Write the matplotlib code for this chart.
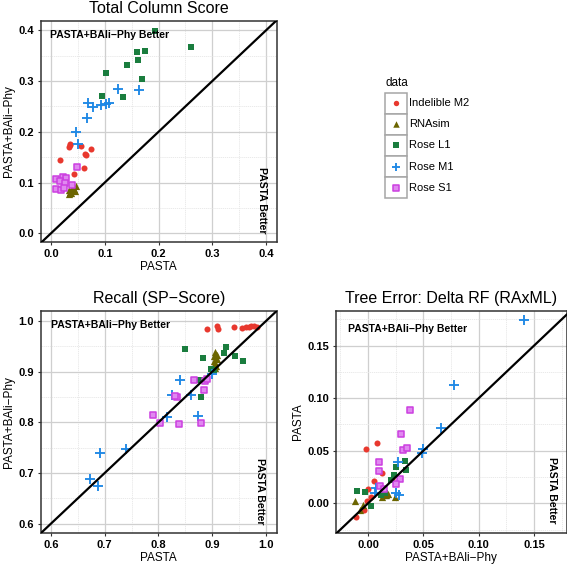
import matplotlib
matplotlib.use("Agg")
import matplotlib.pyplot as plt
from matplotlib.patches import Rectangle
from matplotlib.ticker import MultipleLocator, FormatStrFormatter

plt.rcParams['font.family'] = ['Liberation Sans', 'DejaVu Sans']

# ---------------- data ----------------
groups = ["Indelible M2", "RNAsim", "Rose L1", "Rose M1", "Rose S1"]

# Total Column Score (x = PASTA, y = PASTA+BAli-Phy)
tc_ind_x = [0.035, 0.033, 0.056, 0.074, 0.065, 0.017, 0.062, 0.043, 0.036, 0.064]
tc_ind_y = [0.176, 0.170, 0.172, 0.167, 0.155, 0.144, 0.128, 0.117, 0.174, 0.156]
tc_rna_x = [0.036, 0.042, 0.047, 0.034, 0.038, 0.040, 0.033, 0.044]
tc_rna_y = [0.082, 0.087, 0.094, 0.077, 0.080, 0.090, 0.085, 0.083]
tc_l1_x = [0.193, 0.260, 0.159, 0.174, 0.161, 0.142, 0.102, 0.170, 0.095, 0.133]
tc_l1_y = [0.399, 0.366, 0.357, 0.359, 0.341, 0.332, 0.315, 0.304, 0.270, 0.268]
tc_m1_x = [0.125, 0.164, 0.069, 0.079, 0.093, 0.103, 0.107, 0.067, 0.047, 0.050]
tc_m1_y = [0.285, 0.282, 0.256, 0.248, 0.252, 0.255, 0.257, 0.227, 0.199, 0.176]
tc_s1_x = [0.048, 0.010, 0.022, 0.028, 0.017, 0.040, 0.010, 0.019, 0.027, 0.025]
tc_s1_y = [0.131, 0.107, 0.111, 0.108, 0.103, 0.095, 0.087, 0.085, 0.100, 0.090]

# Recall (SP-Score)
rc_ind_x = [0.891, 0.908, 0.910, 0.940, 0.955, 0.963, 0.969, 0.973, 0.978, 0.983]
rc_ind_y = [0.984, 0.990, 0.984, 0.989, 0.986, 0.988, 0.989, 0.991, 0.990, 0.989]
rc_rna_x = [0.906, 0.904, 0.908, 0.905, 0.907, 0.903, 0.909, 0.905]
rc_rna_y = [0.938, 0.930, 0.925, 0.918, 0.912, 0.922, 0.933, 0.908]
rc_l1_x = [0.850, 0.882, 0.926, 0.921, 0.942, 0.957, 0.898, 0.878, 0.880, 0.904]
rc_l1_y = [0.945, 0.927, 0.949, 0.937, 0.930, 0.921, 0.906, 0.883, 0.850, 0.903]
rc_m1_x = [0.672, 0.688, 0.691, 0.740, 0.816, 0.826, 0.861, 0.840, 0.873, 0.900]
rc_m1_y = [0.688, 0.674, 0.739, 0.747, 0.811, 0.854, 0.854, 0.884, 0.812, 0.896]
rc_s1_x = [0.790, 0.803, 0.839, 0.834, 0.830, 0.867, 0.887, 0.884, 0.879, 0.890]
rc_s1_y = [0.815, 0.798, 0.797, 0.850, 0.852, 0.884, 0.882, 0.863, 0.799, 0.886]

# Tree Error: Delta RF (x = PASTA+BAli-Phy, y = PASTA)
te_ind_x = [-0.002, 0.008, 0.013, 0.005, 0.000, 0.003, -0.004, -0.011, 0.022, -0.001]
te_ind_y = [0.052, 0.057, 0.029, 0.021, 0.014, 0.006, -0.006, -0.013, 0.023, 0.002]
te_rna_x = [-0.012, -0.005, -0.007, 0.015, 0.018, 0.013, 0.024, 0.016]
te_rna_y = [0.002, -0.002, -0.006, 0.008, 0.009, 0.006, 0.006, 0.008]
te_l1_x = [-0.010, -0.003, 0.003, 0.023, 0.025, 0.033, 0.034, 0.015, 0.012, 0.021]
te_l1_y = [0.012, 0.011, -0.003, 0.027, 0.035, 0.040, 0.032, 0.010, 0.008, 0.022]
te_m1_x = [0.141, 0.078, 0.066, 0.050, 0.049, 0.027, 0.007, 0.025, 0.028, 0.006]
te_m1_y = [0.174, 0.113, 0.072, 0.052, 0.048, 0.039, 0.015, 0.010, 0.008, 0.010]
te_s1_x = [0.038, 0.030, 0.032, 0.035, 0.010, 0.010, 0.029, 0.025, 0.011, 0.014]
te_s1_y = [0.089, 0.066, 0.051, 0.053, 0.039, 0.031, 0.023, 0.018, 0.016, 0.014]

# ---------------- style ----------------
colors = ["#E8382E", "#6B6500", "#1A7D3E", "#1E88E5", "#CC3FE0"]
styles = [
    dict(marker='o', s=19, linewidths=0),
    dict(marker='^', s=27, linewidths=0),
    dict(marker='s', s=22, linewidths=0),
    dict(marker='+', s=52, linewidths=1.35),
    dict(marker='s', s=22, linewidths=1.1),
]
legend_scale = 0.8

FIG_W, FIG_H = 567, 566
fig = plt.figure(figsize=(FIG_W / 100, FIG_H / 100), dpi=100)


def px_axes(l, t, r, b):
    return fig.add_axes([l / FIG_W, 1 - b / FIG_H, (r - l) / FIG_W, (b - t) / FIG_H])


def draw_points(ax, xs_list, ys_list):
    for i, (xs, ys) in enumerate(zip(xs_list, ys_list)):
        kw = dict(styles[i])
        if i == 4:
            ax.scatter(xs, ys, facecolors="#E088F0", edgecolors=colors[i], zorder=3, **kw)
        else:
            ax.scatter(xs, ys, c=colors[i], zorder=3, **kw)


def style_axes(ax, lim, major, minor, fmt, title, xlabel, ylabel,
               top_pos, side_pos):
    ax.set_xlim(*lim[0])
    ax.set_ylim(*lim[1])
    for axis in (ax.xaxis, ax.yaxis):
        axis.set_major_locator(MultipleLocator(major))
        axis.set_minor_locator(MultipleLocator(minor))
        axis.set_major_formatter(FormatStrFormatter(fmt))
    ax.grid(which='major', color='#cfcfcf', lw=0.9, zorder=0)
    ax.grid(which='minor', color='#e6e6e6', lw=0.6, ls=(0, (1.5, 1.0)), zorder=0)
    ax.set_axisbelow(True)
    ax.tick_params(which='major', length=2.5, width=0.8, color='#333333',
                   labelsize=8, pad=2.5, labelcolor='black')
    ax.tick_params(which='minor', length=0)
    for lab in ax.get_xticklabels() + ax.get_yticklabels():
        lab.set_fontweight('bold')
    for sp in ax.spines.values():
        sp.set_color('#333333')
        sp.set_linewidth(1.1)
    ax.set_title(title, fontsize=11.5, pad=5.5)
    ax.set_xlabel(xlabel, fontsize=8.5, labelpad=1.5)
    ax.set_ylabel(ylabel, fontsize=8.5, labelpad=2)
    ax.axline((0, 0), slope=1, color='black', lw=1.6, zorder=4)
    ax.text(top_pos[0], top_pos[1], "PASTA+BAli\u2212Phy Better", transform=ax.transAxes,
            ha='left', va='center', fontsize=7.5, fontweight='bold', zorder=5)
    ax.text(side_pos[0], side_pos[1], "PASTA Better", transform=ax.transAxes,
            ha='center', va='center', rotation=-90, fontsize=7.5, fontweight='bold', zorder=5)


# Total Column Score
ax1 = px_axes(40.7, 21, 277, 242)
draw_points(ax1, [tc_ind_x, tc_rna_x, tc_l1_x, tc_m1_x, tc_s1_x],
            [tc_ind_y, tc_rna_y, tc_l1_y, tc_m1_y, tc_s1_y])
style_axes(ax1, ((-0.019, 0.42), (-0.017, 0.418)), 0.1, 0.05, '%.1f',
           "Total Column Score", "PASTA", "PASTA+BAli\u2212Phy",
           (0.04, 0.937), (0.935, 0.19))

# Recall
ax2 = px_axes(40.7, 310.7, 277, 533)
draw_points(ax2, [rc_ind_x, rc_rna_x, rc_l1_x, rc_m1_x, rc_s1_x],
            [rc_ind_y, rc_rna_y, rc_l1_y, rc_m1_y, rc_s1_y])
style_axes(ax2, ((0.581, 1.0205), (0.5816, 1.0204)), 0.1, 0.05, '%.1f',
           "Recall (SP\u2212Score)", "PASTA", "PASTA+BAli\u2212Phy",
           (0.043, 0.937), (0.928, 0.19))

# Tree Error
ax3 = px_axes(336, 310.7, 566.5, 532.7)
draw_points(ax3, [te_ind_x, te_rna_x, te_l1_x, te_m1_x, te_s1_x],
            [te_ind_y, te_rna_y, te_l1_y, te_m1_y, te_s1_y])
style_axes(ax3, ((-0.029, 0.1794), (-0.028, 0.1833)), 0.05, 0.025, '%.2f',
           "Tree Error: Delta RF (RAxML)", "PASTA+BAli\u2212Phy", "PASTA",
           (0.053, 0.916), (0.935, 0.19))

# ---------------- legend ----------------
lax = px_axes(375, 70, 500, 210)
lax.set_xlim(375, 500)
lax.set_ylim(210, 70)
lax.axis('off')
lax.text(385, 83, "data", ha='left', va='center', fontsize=8.5)
key_top = 92.7
key_h = 21.1
for i, g in enumerate(groups):
    y0 = key_top + i * key_h
    lax.add_patch(Rectangle((385, y0), 21.7, key_h, facecolor='white',
                            edgecolor='#a6a6a6', lw=1.1))
    kw = dict(styles[i])
    kw['s'] = kw['s'] * legend_scale
    if i == 4:
        lax.scatter([395.8], [y0 + key_h / 2], facecolors="#E088F0",
                    edgecolors=colors[i], **kw)
    else:
        lax.scatter([395.8], [y0 + key_h / 2], c=colors[i], **kw)
    lax.text(409, y0 + key_h / 2, g, ha='left', va='center', fontsize=8)

fig.savefig("out.png", dpi=100)
